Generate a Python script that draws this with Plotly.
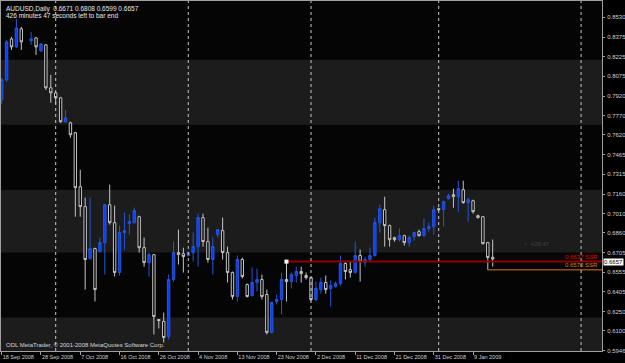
import datetime as dt
import plotly.graph_objects as go

# ---------------- data ----------------
dates = [
    "2008-09-18", "2008-09-19", "2008-09-21", "2008-09-22", "2008-09-23", "2008-09-24", "2008-09-25",
    "2008-09-26", "2008-09-28", "2008-09-29", "2008-09-30",
    "2008-10-01", "2008-10-02", "2008-10-03", "2008-10-05", "2008-10-06", "2008-10-07", "2008-10-08",
    "2008-10-09", "2008-10-10", "2008-10-12", "2008-10-13", "2008-10-14", "2008-10-15", "2008-10-16",
    "2008-10-17", "2008-10-19", "2008-10-20", "2008-10-21", "2008-10-22", "2008-10-23", "2008-10-24",
    "2008-10-26", "2008-10-27", "2008-10-28", "2008-10-29", "2008-10-30", "2008-10-31",
    "2008-11-02", "2008-11-03", "2008-11-04", "2008-11-05", "2008-11-06", "2008-11-07", "2008-11-09",
    "2008-11-10", "2008-11-11", "2008-11-12", "2008-11-13", "2008-11-14", "2008-11-16", "2008-11-17",
    "2008-11-18", "2008-11-19", "2008-11-20", "2008-11-21", "2008-11-23", "2008-11-24", "2008-11-25",
    "2008-11-26", "2008-11-27", "2008-11-28", "2008-11-30",
    "2008-12-01", "2008-12-02", "2008-12-03", "2008-12-04", "2008-12-05", "2008-12-07", "2008-12-08",
    "2008-12-09", "2008-12-10", "2008-12-11", "2008-12-12", "2008-12-14", "2008-12-15", "2008-12-16",
    "2008-12-17", "2008-12-18", "2008-12-19", "2008-12-21", "2008-12-22", "2008-12-23", "2008-12-24",
    "2008-12-26", "2008-12-28", "2008-12-29", "2008-12-30", "2008-12-31",
    "2009-01-01", "2009-01-02", "2009-01-04", "2009-01-05", "2009-01-06", "2009-01-07", "2009-01-08",
    "2009-01-09", "2009-01-11", "2009-01-12", "2009-01-13", "2009-01-14",
]

opens = [
    0.7891, 0.8046, 0.8363, 0.8301, 0.8441, None, 0.8348, 0.8371, 0.8270, 0.8317,
    0.7984, 0.7945, 0.7906, 0.7721, 0.7713, 0.7636, 0.7218, 0.7063, 0.6660, 0.6738,
    0.6715, 0.6784, 0.7078, 0.6939, 0.6552, 0.6862, 0.6931, 0.6939, 0.6985, 0.6745,
    0.6629, 0.6691, 0.6188, 0.6173, 0.6057, 0.6498, 0.6707, 0.6699, 0.6684, 0.6707,
    0.6753, 0.6978, 0.6792, 0.6653, 0.6846, 0.6877, 0.6707, 0.6552, 0.6366, 0.6653,
    0.6459, 0.6374, 0.6475, 0.6498, 0.6382, 0.6088, 0.6328, 0.6343, 0.6498, 0.6482,
    0.6529, 0.6560, 0.6529, 0.6513, 0.6343, 0.6420, 0.6475, 0.6428, 0.6444, 0.6467,
    0.6622, 0.6575, 0.6552, 0.6684, 0.6629, 0.6653, 0.6684, 0.6939, 0.7040, 0.6916,
    0.6823, 0.6807, 0.6838, 0.6784, 0.6831, 0.6869, 0.6838, 0.6893, 0.6908, 0.7047,
    0.7040, 0.7125, 0.7156, 0.7140, 0.7194, 0.7094, 0.7109, 0.6993, 0.6985, 0.6784,
    0.6671,
]
highs = [
    0.8061, 0.8355, 0.8379, 0.8518, 0.8456, None, 0.8417, 0.8379, 0.8332, 0.8324,
    0.8085, 0.7953, 0.7914, 0.7814, 0.7721, 0.7643, 0.7349, 0.7133, 0.7133, 0.6745,
    0.6823, 0.7078, 0.7233, 0.7071, 0.6916, 0.7016, 0.7001, 0.7055, 0.6993, 0.6823,
    0.6707, 0.6691, 0.6190, 0.6242, 0.6537, 0.6792, 0.6885, 0.6745, 0.6715, 0.6862,
    0.7009, 0.7009, 0.6900, 0.6823, 0.6885, 0.6978, 0.6753, 0.6560, 0.6684, 0.6668,
    0.6467, 0.6591, 0.6583, 0.6537, 0.6420, 0.6328, 0.6382, 0.6552, 0.6637, 0.6552,
    0.6598, 0.6598, 0.6552, 0.6513, 0.6482, 0.6513, 0.6529, 0.6490, 0.6482, 0.6684,
    0.6637, 0.6637, 0.6792, 0.6730, 0.6676, 0.6745, 0.6978, 0.7078, 0.7140, 0.6924,
    0.6831, 0.6893, 0.6846, 0.6838, 0.6869, 0.6885, 0.6970, 0.6939, 0.7071, 0.7055,
    0.7109, 0.7163, 0.7202, 0.7264, 0.7264, 0.7133, 0.7117, 0.7001, 0.6990, 0.6790,
    0.6808,
]
lows = [
    0.7860, 0.8030, 0.8278, 0.8293, 0.8278, None, 0.8317, 0.8239, 0.8263, 0.7968,
    0.7868, 0.7852, 0.7713, 0.7713, 0.7597, 0.6985, 0.6985, 0.6420, 0.6653, 0.6328,
    0.6707, 0.6537, 0.6924, 0.6521, 0.6529, 0.6730, 0.6846, 0.6931, 0.6707, 0.6598,
    0.6521, 0.6072, 0.6119, 0.6010, 0.6033, 0.6482, 0.6614, 0.6552, 0.6676, 0.6637,
    0.6598, 0.6753, 0.6629, 0.6537, 0.6823, 0.6653, 0.6475, 0.6343, 0.6328, 0.6506,
    0.6359, 0.6366, 0.6405, 0.6343, 0.6072, 0.6080, 0.6304, 0.6227, 0.6328, 0.6428,
    0.6475, 0.6475, 0.6498, 0.6328, 0.6328, 0.6389, 0.6389, 0.6289, 0.6436, 0.6451,
    0.6498, 0.6513, 0.6544, 0.6482, 0.6598, 0.6637, 0.6676, 0.6862, 0.6753, 0.6753,
    0.6792, 0.6792, 0.6761, 0.6753, 0.6800, 0.6831, 0.6831, 0.6869, 0.6846, 0.7032,
    0.6908, 0.7117, 0.7055, 0.7024, 0.7086, 0.6947, 0.7009, 0.6970, 0.6769, 0.6573,
    0.6599,
]
closes = [
    0.8046, 0.8340, 0.8301, 0.8448, 0.8340, None, 0.8363, 0.8301, 0.8324, 0.7984,
    0.7945, 0.7906, 0.7721, 0.7752, 0.7620, 0.7210, 0.7063, 0.6653, 0.6738, 0.6420,
    0.6784, 0.7078, 0.6939, 0.6552, 0.6862, 0.6877, 0.6947, 0.7032, 0.6745, 0.6629,
    0.6691, 0.6211, 0.6180, 0.6049, 0.6498, 0.6707, 0.6691, 0.6676, 0.6707, 0.6753,
    0.6978, 0.6792, 0.6653, 0.6753, 0.6885, 0.6707, 0.6552, 0.6366, 0.6653, 0.6521,
    0.6366, 0.6475, 0.6498, 0.6366, 0.6088, 0.6320, 0.6343, 0.6498, 0.6482, 0.6537,
    0.6560, 0.6544, 0.6513, 0.6343, 0.6428, 0.6475, 0.6420, 0.6451, 0.6467, 0.6622,
    0.6560, 0.6552, 0.6684, 0.6637, 0.6653, 0.6684, 0.6939, 0.7047, 0.6916, 0.6807,
    0.6807, 0.6838, 0.6784, 0.6823, 0.6862, 0.6838, 0.6893, 0.6908, 0.7040, 0.7040,
    0.7102, 0.7148, 0.7140, 0.7202, 0.7094, 0.7117, 0.7024, 0.6978, 0.6776, 0.6668,
    0.6657,
]

x_tick_labels = ["18 Sep 2008", "28 Sep 2008", "7 Oct 2008", "16 Oct 2008", "26 Oct 2008",
                 "4 Nov 2008", "13 Nov 2008", "23 Nov 2008", "2 Dec 2008", "11 Dec 2008",
                 "21 Dec 2008", "31 Dec 2008", "9 Jan 2009"]
x_tick_dates = ["2008-09-18", "2008-09-28", "2008-10-07", "2008-10-16", "2008-10-26",
                "2008-11-04", "2008-11-13", "2008-11-23", "2008-12-02", "2008-12-11",
                "2008-12-21", "2008-12-31", "2009-01-09"]

y_tick_values = [0.8530, 0.8375, 0.8225, 0.8075, 0.7920, 0.7770, 0.7620, 0.7465, 0.7315,
                 0.7160, 0.7010, 0.6860, 0.6705, 0.6555, 0.6405, 0.6250, 0.6100, 0.5946]
y_tick_labels = ["0.8530", "0.8375", "0.8225", "0.8075", "0.7920", "0.7770", "0.7620", "0.7465",
                 "0.7315", "0.7160", "0.7010", "0.6860", "0.6705", "0.6555", "0.6405", "0.6250",
                 "0.6100", "0.5946"]

separator_dates = ["2008-10-01", "2008-11-02", "2008-12-01", "2009-01-01", "2009-02-01"]

band_lows = [0.7697, 0.6707, 0.5900]
band_highs = [0.8201, 0.7194, 0.6204]

ssr_levels = [0.6637, 0.6573]
ssr_start_dates = ["2008-11-25", "2009-01-13"]
ssr_labels = ["0.6637 SSR", "0.6573 SSR"]
ssr_colors = ["#8e0000", "#d2781e"]
ssr_text_colors = ["#e00000", "#d2801e"]

header_1 = "AUDUSD,Daily  0.6671 0.6808 0.6599 0.6657"
header_2 = "426 minutes 47 seconds left to bar end"
footer = "ODL MetaTrader, \u00a9 2001-2008 MetaQuotes Software Corp."
timer_text = "<  426:47"
bid_price = 0.6657

# ---------------- helpers ----------------
xs = list(range(len(dates)))
pos = {d: i for i, d in enumerate(dates)}
last_date = dt.date.fromisoformat(dates[-1])


def bar_pos(d):
    if d in pos:
        return pos[d]
    # future time: one bar per calendar day after the last bar
    return len(dates) - 1 + (dt.date.fromisoformat(d) - last_date).days


X_MIN, X_MAX = -0.14, 122.26
Y_MIN, Y_MAX = 0.5944, 0.8657
GRID = "#a0a0a0"
FONT = "Liberation Sans"
FS = 6
FSX = 5.5

fig = go.Figure()

fig.add_trace(go.Candlestick(
    x=xs, open=opens, high=highs, low=lows, close=closes,
    increasing=dict(line=dict(color="#2456d8", width=1), fillcolor="#0a3cff"),
    decreasing=dict(line=dict(color="#c4c4c4", width=1), fillcolor="#000000"),
    whiskerwidth=0, hoverinfo="skip", showlegend=False,
))

shapes = []
for lo, hi in zip(band_lows, band_highs):
    shapes.append(dict(type="rect", xref="paper", yref="y", x0=0, x1=1, y0=lo, y1=hi,
                       fillcolor="#1c1c1c", line=dict(width=0), layer="below"))
for d in separator_dates:
    p = bar_pos(d)
    shapes.append(dict(type="line", xref="x", yref="paper", x0=p, x1=p, y0=0, y1=1,
                       line=dict(color="#c8c8c8", width=1, dash="dot"), layer="above"))
fig.update_layout(shapes=shapes)

for lvl, d, col in zip(ssr_levels, ssr_start_dates, ssr_colors):
    fig.add_trace(go.Scatter(x=[bar_pos(d), X_MAX], y=[lvl, lvl], mode="lines",
                             line=dict(color=col, width=2 if col == ssr_colors[0] else 1),
                             hoverinfo="skip", showlegend=False))
fig.add_trace(go.Scatter(x=[bar_pos(ssr_start_dates[0])], y=[ssr_levels[0]], mode="markers",
                         marker=dict(symbol="square", size=4, color="#ffffff"),
                         hoverinfo="skip", showlegend=False))

annotations = [
    dict(xref="paper", yref="paper", x=0, y=1, xanchor="left", yanchor="top", xshift=3, yshift=-2,
         text=header_1, showarrow=False, font=dict(family=FONT, size=FS + 0.5, color="#e8e8e8")),
    dict(xref="paper", yref="paper", x=0, y=1, xanchor="left", yanchor="top", xshift=3, yshift=-9,
         text=header_2, showarrow=False, font=dict(family=FONT, size=FS + 0.5, color="#e8e8e8")),
    dict(xref="paper", yref="paper", x=0, y=0, xanchor="left", yanchor="bottom", xshift=3, yshift=1,
         text=footer, showarrow=False, font=dict(family=FONT, size=FS, color="#d8d8d8")),
    dict(xref="x", yref="y", x=len(dates) + 5, y=0.6776, xanchor="left", yanchor="middle",
         text=timer_text, showarrow=False, font=dict(family=FONT, size=FS, color="#404040")),
    dict(xref="paper", yref="y", x=1, y=bid_price, xanchor="left", yanchor="middle", xshift=1,
         yshift=-3, text=f"{bid_price:.4f}", showarrow=False, bgcolor="#ffffff", borderpad=0,
         font=dict(family=FONT, size=FS, color="#000000")),
]
for lvl, lab, col in zip(ssr_levels, ssr_labels, ssr_text_colors):
    annotations.append(dict(xref="paper", yref="y", x=1, y=lvl, xanchor="right", yanchor="bottom",
                            xshift=-2, yshift=0, text=lab, showarrow=False,
                            font=dict(family=FONT, size=FS, color=col)))
fig.update_layout(annotations=annotations)

fig.update_layout(
    width=625, height=363,
    margin=dict(l=1, r=23, t=1, b=12, autoexpand=False),
    paper_bgcolor="#000000", plot_bgcolor="#050505",
    font=dict(family=FONT, size=FS, color="#d0d0d0"),
    xaxis=dict(
        range=[X_MIN, X_MAX], rangeslider=dict(visible=False), automargin=False,
        tickmode="array", tickvals=[bar_pos(d) for d in x_tick_dates], ticktext=x_tick_labels,
        tickangle=0, ticks="outside", ticklen=3, tickcolor=GRID, ticklabelposition="outside right",
        showline=True, linecolor=GRID, mirror=True, showgrid=False, zeroline=False,
        tickfont=dict(family=FONT, size=FSX, color="#d0d0d0"),
    ),
    yaxis=dict(
        range=[Y_MIN, Y_MAX], side="right", automargin=False,
        tickmode="array", tickvals=y_tick_values, ticktext=y_tick_labels,
        ticks="outside", ticklen=2, tickcolor=GRID, ticklabelstandoff=1,
        showline=True, linecolor=GRID, mirror=True, showgrid=False, zeroline=False,
        tickfont=dict(family=FONT, size=FS, color="#d0d0d0"),
    ),
)

fig.write_html("out.html")
